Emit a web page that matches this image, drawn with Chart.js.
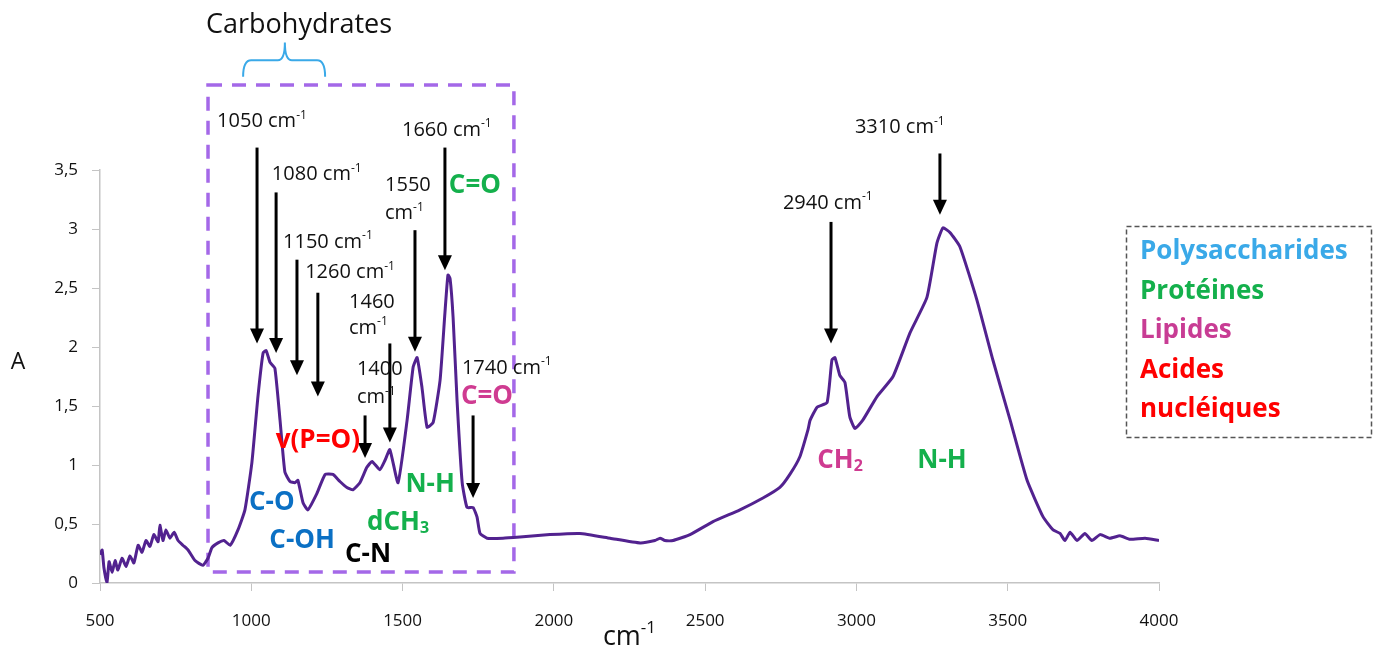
<!DOCTYPE html>
<html>
<head>
<meta charset="utf-8">
<script src="https://cdn.jsdelivr.net/npm/chart.js@4.4.1/dist/chart.umd.min.js"></script>
<style>
  html, body { margin: 0; padding: 0; background: #fff; }
  #wrap { width: 1374px; height: 654px; }
</style>
</head>
<body>
<div id="wrap"><canvas id="chart"></canvas></div>
<script>
// spectre IR : nombre d'onde (cm-1) / absorbance
const wavenumbers = [500,507,513,523,530,540,550,559,573,586,599,612,626,639,652,665,678,692,698,708,
  718,731,745,758,774,791,814,840,857,870,890,910,930,956,979,1002,1022,1039,1049,1062,
  1078,1095,1111,1128,1144,1154,1171,1187,1217,1244,1270,1293,1316,1336,1359,1382,1399,1425,1442,1458,
  1485,1515,1535,1548,1564,1581,1601,1624,1640,1650,1657,1667,1680,1697,1713,1733,1746,1756,1779,1832,
  1888,1987,2086,2186,2285,2334,2351,2367,2394,2450,2526,2615,2691,2747,2780,2813,2840,2847,2870,2903,
  2919,2929,2945,2962,2978,2995,3021,3068,3121,3177,3233,3266,3286,3309,3342,3398,3451,3508,3564,3617,
  3650,3673,3689,3706,3729,3755,3778,3805,3838,3871,3904,3954,4000];
const absorbance = [0.24,0.28,0.13,0.0,0.18,0.09,0.19,0.11,0.21,0.14,0.23,0.17,0.32,0.26,0.36,0.31,0.41,0.35,0.49,0.36,
  0.45,0.38,0.43,0.36,0.32,0.28,0.19,0.15,0.21,0.30,0.34,0.36,0.32,0.45,0.62,1.02,1.58,1.95,1.97,1.87,
  1.82,1.38,0.94,0.86,0.85,0.87,0.68,0.62,0.76,0.92,0.92,0.86,0.81,0.79,0.85,0.98,1.03,0.96,1.04,1.13,
  0.85,1.38,1.83,1.91,1.66,1.32,1.36,1.72,2.29,2.61,2.58,2.25,1.55,0.85,0.64,0.64,0.56,0.42,0.38,0.38,
  0.39,0.41,0.42,0.38,0.34,0.36,0.38,0.36,0.36,0.41,0.52,0.62,0.72,0.81,0.92,1.07,1.30,1.38,1.49,1.53,
  1.89,1.91,1.76,1.70,1.41,1.31,1.38,1.58,1.75,2.12,2.42,2.88,3.01,2.97,2.85,2.40,1.89,1.38,0.87,0.56,
  0.45,0.42,0.36,0.43,0.36,0.42,0.36,0.41,0.38,0.40,0.37,0.38,0.36];

const xTickValues = [500, 1000, 1500, 2000, 2500, 3000, 3500, 4000];
const yTickValues = [0, 0.5, 1, 1.5, 2, 2.5, 3, 3.5];

const legendLabels = ['Polysaccharides', 'Protéines', 'Lipides', 'Acides', 'nucléiques'];
const legendColors = ['#3aa9e8', '#14b04c', '#c83c94', '#ff0000', '#ff0000'];

// fleches des pics (x en cm-1, y en absorbance)
const peakArrows = [
  { x: 1019, top: 3.69, tip: 2.03 },
  { x: 1082, top: 3.31, tip: 1.95 },
  { x: 1151, top: 2.74, tip: 1.76 },
  { x: 1220, top: 2.46, tip: 1.58 },
  { x: 1376, top: 1.42, tip: 1.06 },
  { x: 1458, top: 2.03, tip: 1.19 },
  { x: 1541, top: 2.99, tip: 1.96 },
  { x: 1640, top: 3.69, tip: 2.65 },
  { x: 1733, top: 1.42, tip: 0.72 },
  { x: 2916, top: 3.06, tip: 2.03 },
  { x: 3276, top: 3.64, tip: 3.12 }
];
const peakLabels = [
  { text: '1050 cm^{-1}', x: 887, y: 3.91 },
  { text: '1080 cm^{-1}', x: 1068, y: 3.46 },
  { text: '1150 cm^{-1}', x: 1105, y: 2.89 },
  { text: '1260 cm^{-1}', x: 1178, y: 2.63 },
  { text: '1460', x: 1323, y: 2.38 },
  { text: 'cm^{-1}', x: 1323, y: 2.16 },
  { text: '1400', x: 1349, y: 1.81 },
  { text: 'cm^{-1}', x: 1349, y: 1.57 },
  { text: '1550', x: 1442, y: 3.37 },
  { text: 'cm^{-1}', x: 1442, y: 3.13 },
  { text: '1660 cm^{-1}', x: 1498, y: 3.84 },
  { text: '1740 cm^{-1}', x: 1696, y: 1.82 },
  { text: '2940 cm^{-1}', x: 2757, y: 3.22 },
  { text: '3310 cm^{-1}', x: 2995, y: 3.86 }
];
const bandLabels = [
  { text: 'v(P=O)', x: 1220, y: 1.21, color: '#ff0000' },
  { text: 'C-O', x: 1068, y: 0.68, color: '#0b70c4' },
  { text: 'C-OH', x: 1168, y: 0.36, color: '#0b70c4' },
  { text: 'C-N', x: 1386, y: 0.24, color: '#000000' },
  { text: 'N-H', x: 1591, y: 0.83, color: '#14b04c' },
  { text: 'dCH_{3}', x: 1485, y: 0.51, color: '#14b04c' },
  { text: 'C=O', x: 1739, y: 3.37, color: '#14b04c' },
  { text: 'C=O', x: 1779, y: 1.58, color: '#cf3b91' },
  { text: 'CH_{2}', x: 2946, y: 1.04, color: '#cf3b91' },
  { text: 'N-H', x: 3283, y: 1.04, color: '#14b04c' }
];
const regionBox = { x0: 857, x1: 1868, y0: 0.093, y1: 4.22 };
const carbBrace = { x0: 973, xc: 1111, x1: 1244, yEnd: 4.29, yBar: 4.43, yTip: 4.58, labelY: 4.73 };

const FONT = '"Open Sans", sans-serif';

function richText(ctx, str, px, py, size, weight, color, align) {
  const parts = [];
  const re = /([\^_])\{([^}]*)\}/g;
  let last = 0, m;
  while ((m = re.exec(str))) {
    if (m.index > last) parts.push({ t: str.slice(last, m.index), k: '' });
    parts.push({ t: m[2], k: m[1] });
    last = re.lastIndex;
  }
  if (last < str.length) parts.push({ t: str.slice(last), k: '' });
  const font = k => `${weight} ${k ? Math.round(size * 0.62) : size}px ${FONT}`;
  let w = 0;
  parts.forEach(p => { ctx.font = font(p.k); p.w = ctx.measureText(p.t).width; w += p.w; });
  let xx = align === 'center' ? px - w / 2 : (align === 'right' ? px - w : px);
  ctx.fillStyle = color;
  ctx.textAlign = 'left';
  ctx.textBaseline = 'middle';
  parts.forEach(p => {
    ctx.font = font(p.k);
    const dy = p.k === '^' ? -size * 0.32 : (p.k === '_' ? size * 0.22 : 0);
    ctx.fillText(p.t, xx, py + dy);
    xx += p.w;
  });
}

const annotations = {
  id: 'annotations',
  beforeDatasetsDraw(chart) {
    const { ctx, scales: { x, y } } = chart;
    const l = x.getPixelForValue(regionBox.x0), r = x.getPixelForValue(regionBox.x1);
    const t = y.getPixelForValue(regionBox.y1), b = y.getPixelForValue(regionBox.y0);
    ctx.save();
    ctx.strokeStyle = '#a468e8';
    ctx.lineWidth = 3.5;
    ctx.setLineDash([14, 10]);
    ctx.strokeRect(l, t, r - l, b - t);
    ctx.restore();
  },
  afterDatasetsDraw(chart) {
    const { ctx, scales: { x, y }, chartArea } = chart;
    ctx.save();

    // fleches
    peakArrows.forEach(a => {
      const px = x.getPixelForValue(a.x);
      const top = y.getPixelForValue(a.top), tip = y.getPixelForValue(a.tip);
      ctx.strokeStyle = '#000';
      ctx.lineWidth = 3;
      ctx.beginPath();
      ctx.moveTo(px, top);
      ctx.lineTo(px, tip - 12);
      ctx.stroke();
      ctx.fillStyle = '#000';
      ctx.beginPath();
      ctx.moveTo(px - 7, tip - 15);
      ctx.lineTo(px + 7, tip - 15);
      ctx.lineTo(px, tip);
      ctx.closePath();
      ctx.fill();
    });

    peakLabels.forEach(l => {
      richText(ctx, l.text, x.getPixelForValue(l.x), y.getPixelForValue(l.y), 20, 'normal', '#111', 'left');
    });
    bandLabels.forEach(l => {
      richText(ctx, l.text, x.getPixelForValue(l.x), y.getPixelForValue(l.y), 26, 'bold', l.color, 'center');
    });

    // accolade "Carbohydrates"
    const bx0 = x.getPixelForValue(carbBrace.x0), bxc = x.getPixelForValue(carbBrace.xc), bx1 = x.getPixelForValue(carbBrace.x1);
    const yEnd = y.getPixelForValue(carbBrace.yEnd), yBar = y.getPixelForValue(carbBrace.yBar), yTip = y.getPixelForValue(carbBrace.yTip);
    ctx.strokeStyle = '#3aa9e8';
    ctx.lineWidth = 2;
    ctx.beginPath();
    ctx.moveTo(bx0, yEnd);
    ctx.quadraticCurveTo(bx0, yBar, bx0 + 8, yBar);
    ctx.lineTo(bxc - 7, yBar);
    ctx.quadraticCurveTo(bxc, yBar, bxc, yTip);
    ctx.quadraticCurveTo(bxc, yBar, bxc + 7, yBar);
    ctx.lineTo(bx1 - 8, yBar);
    ctx.quadraticCurveTo(bx1, yBar, bx1, yEnd);
    ctx.stroke();
    richText(ctx, 'Carbohydrates', x.getPixelForValue(1158), y.getPixelForValue(carbBrace.labelY), 27, 'normal', '#111', 'center');

    // titres des axes
    richText(ctx, 'A', 18, 362, 23, 'normal', '#111', 'center');
    richText(ctx, 'cm^{-1}', (chartArea.left + chartArea.right) / 2, 637, 27, 'normal', '#111', 'center');

    // legende
    ctx.strokeStyle = '#555';
    ctx.lineWidth = 1.5;
    ctx.setLineDash([5, 3]);
    ctx.strokeRect(1126.5, 226.5, 245, 211);
    ctx.setLineDash([]);
    legendLabels.forEach((t, i) => {
      richText(ctx, t, 1140, 252 + i * 39.5, 26, 'bold', legendColors[i], 'left');
    });

    ctx.restore();
  }
};

const chart = new Chart(document.getElementById('chart'), {
  type: 'line',
  data: {
    datasets: [{
      label: 'Absorbance',
      data: wavenumbers.map((w, i) => ({ x: w, y: absorbance[i] })),
      borderColor: '#52228f',
      borderWidth: 3,
      pointRadius: 0,
      tension: 0.15,
      fill: false
    }]
  },
  options: {
    responsive: true,
    maintainAspectRatio: false,
    animation: false,
    layout: { padding: { left: 0, right: 215, top: 170, bottom: 0 } },
    plugins: {
      legend: { display: false },
      tooltip: { enabled: false }
    },
    scales: {
      x: {
        type: 'linear',
        min: 500,
        max: 4000,
        afterBuildTicks: s => { s.ticks = xTickValues.map(v => ({ value: v })); },
        afterFit: s => { s.height = 71; },
        grid: { drawOnChartArea: false, color: '#c4c4c4', tickLength: 8 },
        border: { color: '#c4c4c4', width: 1.5 },
        ticks: {
          color: '#111',
          padding: 20,
          font: { family: FONT, size: 17 },
          maxRotation: 0,
          callback: v => String(v)
        }
      },
      y: {
        min: 0,
        max: 3.5,
        afterBuildTicks: s => { s.ticks = yTickValues.map(v => ({ value: v })); },
        afterFit: s => { s.width = 100; },
        grid: { drawOnChartArea: false, color: '#c4c4c4', tickLength: 8 },
        border: { color: '#c4c4c4', width: 1.5 },
        ticks: {
          color: '#111',
          padding: 14,
          font: { family: FONT, size: 17 },
          callback: v => String(v).replace('.', ',')
        }
      }
    }
  },
  plugins: [annotations]
});
</script>
</body>
</html>
